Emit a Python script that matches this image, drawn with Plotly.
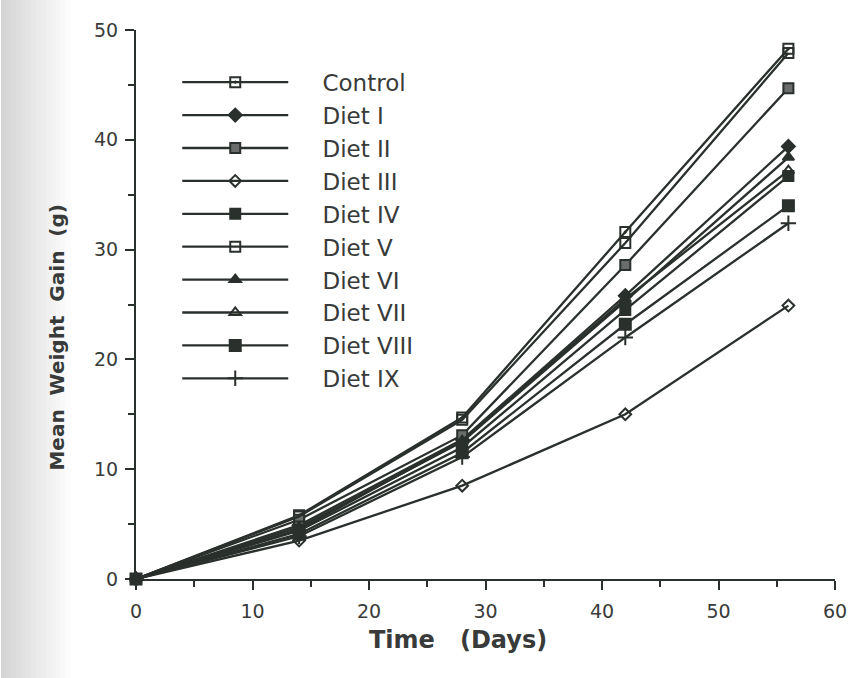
import plotly.graph_objects as go

# Sampling days
days = [0, 14, 28, 42, 56]

# Mean weight gain (g) per diet at each sampling day
control = [0, 5.8, 14.7, 31.6, 48.3]
diet_1 = [0, 4.9, 12.7, 25.8, 39.4]
diet_2 = [0, 5.4, 13.1, 28.6, 44.7]
diet_3 = [0, 3.5, 8.5, 15.0, 24.9]
diet_4 = [0, 4.4, 12.0, 24.5, 36.7]
diet_5 = [0, 5.7, 14.5, 30.6, 47.9]
diet_6 = [0, 4.7, 12.5, 25.3, 38.4]
diet_7 = [0, 4.5, 12.6, 25.5, 37.2]
diet_8 = [0, 4.1, 11.5, 23.2, 34.0]
diet_9 = [0, 3.9, 11.1, 22.0, 32.4]

names = ["Control", "Diet I", "Diet II", "Diet III", "Diet IV",
         "Diet V", "Diet VI", "Diet VII", "Diet VIII", "Diet IX"]
series = [control, diet_1, diet_2, diet_3, diet_4,
          diet_5, diet_6, diet_7, diet_8, diet_9]

INK = "#2a302c"
TEXT = "#383b39"
FONT = "DejaVu Sans, Verdana, sans-serif"

# plot-area size in pixels, used to place layout items in paper units
PW, PH = 704, 549

# marker symbol, fill colour, size for each diet
styles = [
    ("square-open-dot", INK, 10),
    ("diamond", INK, 10),
    ("square", "#6a6d6b", 10),
    ("diamond-open", INK, 9),
    ("square", INK, 10),
    ("square-open", INK, 10),
    ("triangle-up", INK, 10),
    ("triangle-up-open", INK, 10),
    ("square", INK, 11),
    ("cross-thin", INK, 11),
]

fig = go.Figure()
for name, ys, (sym, col, size) in zip(names, series, styles):
    fig.add_trace(go.Scatter(
        x=days, y=ys, name="    " + name, mode="lines+markers",
        line=dict(color=INK, width=2.3),
        marker=dict(symbol=sym, size=size, color=col,
                    line=dict(color=INK, width=2)),
        cliponaxis=False,
    ))

# soft shadow along the left edge of the sheet
for i in range(14):
    fig.add_shape(type="rect", xref="paper", yref="paper",
                  x0=-136 / PW, x1=(-136 + 5 * (i + 1)) / PW,
                  y0=-99 / PH, y1=1 + 30 / PH,
                  fillcolor="#5a6a60", opacity=0.018, line_width=0, layer="below")

axis_common = dict(
    showline=True, linecolor=INK, linewidth=2, showgrid=False, zeroline=False,
    ticks="outside", ticklen=9, tickwidth=2, tickcolor=INK,
    tickfont=dict(family=FONT, size=19, color=TEXT),
    minor=dict(ticks="outside", ticklen=6, tickwidth=2, tickcolor=INK, dtick=5),
)

fig.update_layout(
    width=859, height=678,
    margin=dict(l=136, r=19, t=30, b=99),
    paper_bgcolor="white", plot_bgcolor="white",
    showlegend=True,
    legend=dict(
        x=0.059, y=0.944, xanchor="left", yanchor="top",
        bgcolor="rgba(0,0,0,0)",
        font=dict(family=FONT, size=23, color=TEXT),
        itemwidth=106, tracegroupgap=0,
    ),
    xaxis=dict(range=[0, 60], dtick=10, tick0=0, ticklabelstandoff=5, **axis_common),
    yaxis=dict(range=[0, 50], dtick=10, tick0=0, ticklabelstandoff=3, **axis_common),
    annotations=[
        dict(text="<b>Time   (Days)</b>", xref="paper", yref="paper",
             x=(460 - 136) / PW, y=-(640 - 579) / PH, showarrow=False,
             xanchor="center", yanchor="middle",
             font=dict(family=FONT, size=24, color=TEXT)),
        dict(text="<b>Mean  Weight  Gain  (g)</b>", xref="paper", yref="paper",
             x=-(136 - 56) / PW, y=1 - (338 - 30) / PH, showarrow=False,
             textangle=-90, xanchor="center", yanchor="middle",
             font=dict(family=FONT, size=20, color=TEXT)),
    ],
)

fig.write_html("out.html")
